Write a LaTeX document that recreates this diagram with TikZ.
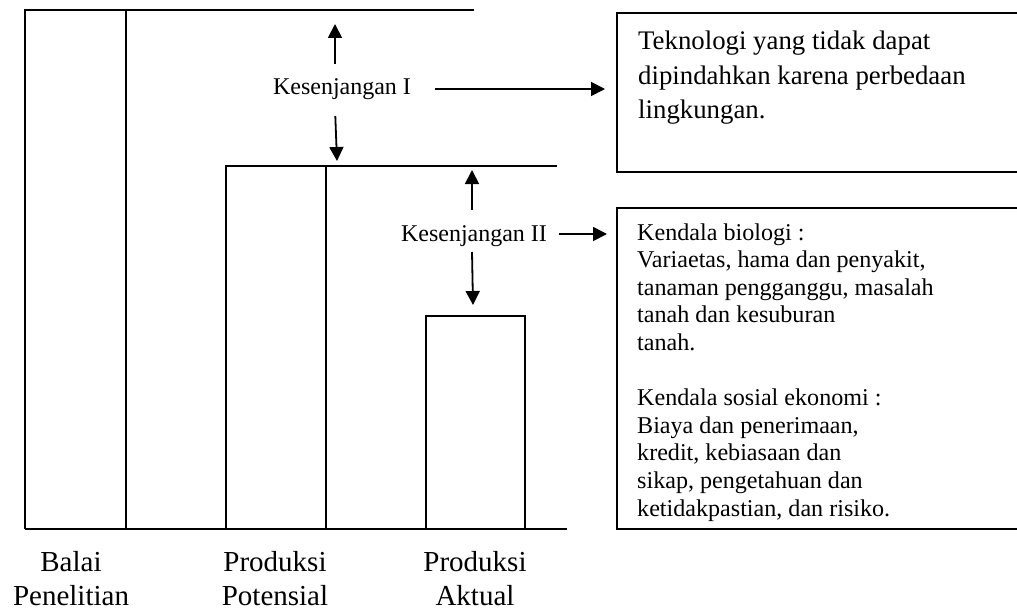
\documentclass[tikz,border=0pt]{standalone}
\usepackage{fontspec}
\setmainfont{Liberation Serif}
\usetikzlibrary{arrows.meta}
\begin{document}
\begin{tikzpicture}[x=1pt,y=-1pt,
  bar/.style={line width=1.3pt},
  boxline/.style={line width=1.8pt},
  arr/.style={line width=1.8pt,-{Triangle[length=14pt,width=14pt]}},
  gaplabel/.style={font=\fontsize{24}{28}\selectfont, inner sep=0pt, anchor=base},
  axislabel/.style={font=\fontsize{29}{34}\selectfont, inner sep=0pt, anchor=base},
  boxtext/.style={inner sep=0pt, anchor=base west},
]
\useasboundingbox (0,0) rectangle (1017,610);

% bars
\draw[bar] (25,529) -- (25,10) -- (474,10);
\draw[bar] (126,10) -- (126,529);
\draw[bar] (226,529) -- (226,166) -- (557,166);
\draw[bar] (326,166) -- (326,529);
\draw[bar] (426,529) -- (426,316) -- (525,316) -- (525,529);
\draw[bar] (25,529) -- (567,529);

% text boxes
\coordinate (b1a) at (1017,13);
\coordinate (b1b) at (617,13);
\coordinate (b1c) at (617,172);
\coordinate (b1d) at (1017,172);
\draw[boxline] (b1a) -- (b1b) -- (b1c) -- (b1d);
\coordinate (b2a) at (1017,208);
\coordinate (b2b) at (617,208);
\coordinate (b2c) at (617,529);
\coordinate (b2d) at (1017,529);
\draw[boxline] (b2a) -- (b2b) -- (b2c) -- (b2d);

\node[boxtext, font=\fontsize{26.8}{34.5}\selectfont] (t1) at (638,50)
  {\parbox[t]{370pt}{\raggedright Teknologi yang tidak dapat\\dipindahkan karena perbedaan\\lingkungan.}};
\node[boxtext, font=\fontsize{24.1}{27.6}\selectfont] (t2) at (637,240)
  {\parbox[t]{370pt}{\raggedright Kendala biologi :\\Variaetas, hama dan penyakit,\\tanaman pengganggu, masalah\\tanah dan kesuburan\\tanah.\\[27.6pt]Kendala sosial ekonomi :\\Biaya dan penerimaan,\\kredit, kebiasaan dan\\sikap, pengetahuan dan\\ketidakpastian, dan risiko.}};

% gap labels
\node[gaplabel] (k1) at (342,95) {Kesenjangan I};
\node[gaplabel] (k2) at (474,241) {Kesenjangan II};

% arrows for gap I
\coordinate (k1u0) at (335,64);
\coordinate (k1u1) at (335,24);
\coordinate (k1d0) at (335.3,116);
\coordinate (k1d1) at (337,161);
\coordinate (k1r0) at (435,89);
\coordinate (k1r1) at (605,89);
\draw[arr] (k1u0) -- (k1u1);
\draw[arr] (k1d0) -- (k1d1);
\draw[arr] (k1r0) -- (k1r1);

% arrows for gap II
\coordinate (k2u0) at (472,210);
\coordinate (k2u1) at (472,170);
\coordinate (k2d0) at (472,252);
\coordinate (k2d1) at (473,305);
\coordinate (k2r0) at (559,234);
\coordinate (k2r1) at (607,234);
\draw[arr] (k2u0) -- (k2u1);
\draw[arr] (k2d0) -- (k2d1);
\draw[arr] (k2r0) -- (k2r1);

% axis labels
\node[axislabel] (l1) at (71,571) {\begin{tabular}[t]{@{}c@{}}Balai\\Penelitian\end{tabular}};
\node[axislabel] (l2) at (275,571) {\begin{tabular}[t]{@{}c@{}}Produksi\\Potensial\end{tabular}};
\node[axislabel] (l3) at (475,571) {\begin{tabular}[t]{@{}c@{}}Produksi\\Aktual\end{tabular}};
\end{tikzpicture}
\end{document}
